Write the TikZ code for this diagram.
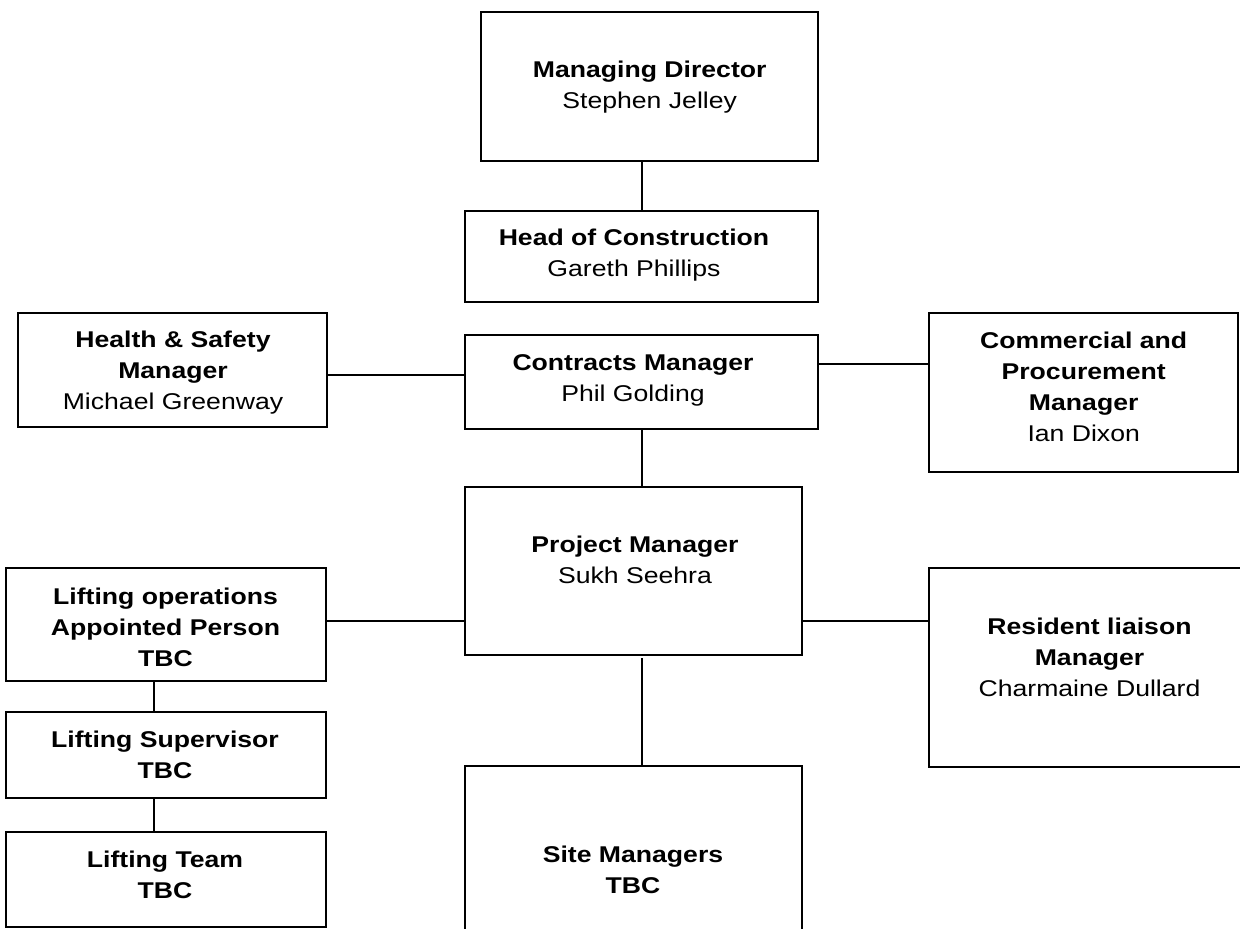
\documentclass[tikz,border=0pt]{standalone}
\usepackage{fontspec}
\setmainfont{Liberation Sans}[FakeStretch=1.167]
\usetikzlibrary{calc}
\begin{document}
\begin{tikzpicture}[x=0.75pt,y=-0.75pt,
  box/.style={draw=black, line width=1.9pt, rectangle, inner sep=0pt, outer sep=0pt},
  link/.style={draw=black, line width=1.5pt},
  lbl/.style={anchor=north, inner sep=0pt, outer sep=0pt, align=center,
              font=\fontsize{17.1}{23.25}\selectfont}]
\clip (0,0) rectangle (1240,929);
\fill[white] (0,0) rectangle (1240,929);

% boxes: centre, width, height (in px)
\node[box, minimum width=337*0.75pt, minimum height=149*0.75pt] (md)   at (649.5,86.5) {};
\node[box, minimum width=353*0.75pt, minimum height=91*0.75pt]  (hoc)  at (641.5,256.5) {};
\node[box, minimum width=309*0.75pt, minimum height=114*0.75pt] (hs)   at (172.5,370) {};
\node[box, minimum width=353*0.75pt, minimum height=94*0.75pt]  (con)  at (641.5,382) {};
\node[box, minimum width=309*0.75pt, minimum height=159*0.75pt] (com)  at (1083.5,392.5) {};
\node[box, minimum width=337*0.75pt, minimum height=168*0.75pt] (pm)   at (633.5,571) {};
\node[box, minimum width=320*0.75pt, minimum height=113*0.75pt] (lo)   at (166,624.5) {};
\node[box, minimum width=323*0.75pt, minimum height=199*0.75pt] (res)  at (1090.5,667.5) {};
\node[box, minimum width=320*0.75pt, minimum height=86*0.75pt]  (ls)   at (166,755) {};
\node[box, minimum width=320*0.75pt, minimum height=95*0.75pt]  (lt)   at (166,879.5) {};
\node[box, minimum width=337*0.75pt, minimum height=184*0.75pt] (site) at (633.5,858) {};

% labels
\node[lbl] (mdT)   at (649.7,61)    {\textbf{Managing Director}\\Stephen Jelley};
\node[lbl] (hocT)  at (634,228.6)   {\textbf{Head of Construction}\\Gareth Phillips};
\node[lbl] (hsT)   at (173,331.3)   {\textbf{Health \& Safety}\\\textbf{Manager}\\Michael Greenway};
\node[lbl] (conT)  at (633,354.6)   {\textbf{Contracts Manager}\\Phil Golding};
\node[lbl] (comT)  at (1083.7,331.9){\textbf{Commercial and}\\\textbf{Procurement}\\\textbf{Manager}\\Ian Dixon};
\node[lbl] (pmT)   at (635,536.3)   {\textbf{Project Manager}\\Sukh Seehra};
\node[lbl] (loT)   at (165.5,587.6) {\textbf{Lifting operations}\\\textbf{Appointed Person}\\\textbf{TBC}};
\node[lbl] (resT)  at (1089.5,617.9){\textbf{Resident liaison}\\\textbf{Manager}\\Charmaine Dullard};
\node[lbl] (lsT)   at (165,730.9)   {\textbf{Lifting Supervisor}\\\textbf{TBC}};
\node[lbl] (ltT)   at (165,851.3)   {\textbf{Lifting Team}\\\textbf{TBC}};
\node[lbl] (siteT) at (633,846.3)   {\textbf{Site Managers}\\\textbf{TBC}};

% connectors
\draw[link] (md.south -| hoc.north) -- (hoc.north);
\draw[link] ($(hs.east)+(0,5)$) -- ($(con.west)+(0,-7)$);
\draw[link] ($(con.east)+(0,-18)$) -- ($(con.east -| com.west)+(0,-18)$);
\draw[link] (con.south) -- (con.south |- pm.north);
\coordinate (pmL) at ($(pm.west)+(0,50)$);
\coordinate (pmR) at ($(pm.east)+(0,50)$);
\draw[link] (pmL) -- (pmL -| lo.east);
\draw[link] (pmR) -- (pmR -| res.west);
\draw[link] ($(con.south |- pm.south)+(0,3)$) -- (con.south |- site.north);
\draw[link] ($(lo.south)+(-12,0)$) -- ($(ls.north)+(-12,0)$);
\draw[link] ($(ls.south)+(-12,0)$) -- ($(lt.north)+(-12,0)$);
\end{tikzpicture}
\end{document}
